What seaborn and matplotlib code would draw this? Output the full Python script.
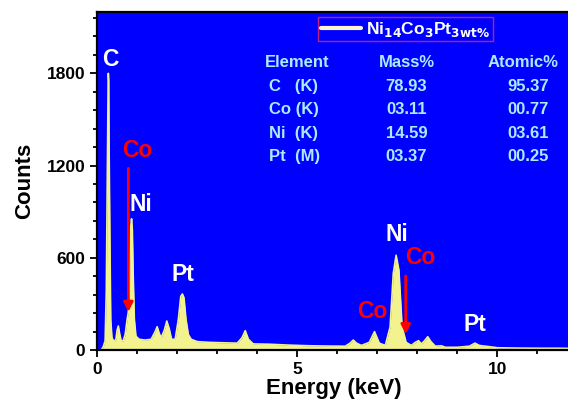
import numpy as np
import pandas as pd
import matplotlib
matplotlib.use("Agg")
import matplotlib.pyplot as plt
import seaborn as sns
from matplotlib.lines import Line2D

# EDS spectrum (energy in keV, counts)
energy = [0.00, 0.10, 0.15, 0.20, 0.23, 0.25, 0.27, 0.28, 0.29, 0.30, 0.32, 0.34, 0.37,
          0.42, 0.47, 0.50, 0.53, 0.56, 0.60, 0.65, 0.70, 0.75, 0.78, 0.81, 0.84, 0.86,
          0.88, 0.90, 0.93, 0.97, 1.05, 1.20, 1.35, 1.45, 1.50, 1.55, 1.60, 1.68, 1.74,
          1.80, 1.86, 1.95, 2.03, 2.09, 2.13, 2.17, 2.22, 2.28, 2.35, 2.50, 2.80, 3.20,
          3.50, 3.62, 3.70, 3.78, 3.90, 4.30, 4.80, 5.30, 5.80, 6.20, 6.32, 6.40, 6.48,
          6.60, 6.80, 6.93, 7.05, 7.20, 7.32, 7.40, 7.47, 7.54, 7.62, 7.72, 7.85, 7.95,
          8.03, 8.10, 8.18, 8.26, 8.34, 8.45, 8.60, 8.70, 9.00, 9.30, 9.44, 9.55, 9.80,
          10.00, 10.50, 11.00, 11.50, 12.00]
counts = [0, 0, 20, 60, 400, 1000, 1600, 1800, 1750, 1300, 700, 200, 80,
          55, 70, 130, 157, 110, 60, 60, 100, 200, 248, 450, 800, 854,
          780, 500, 200, 90, 70, 65, 70, 120, 152, 110, 80, 130, 189,
          140, 70, 70, 200, 350, 365, 340, 200, 100, 70, 55, 50, 47,
          45, 80, 126, 70, 40, 38, 32, 28, 26, 25, 45, 65, 45,
          30, 50, 120, 45, 30, 150, 500, 617, 520, 150, 50, 30, 50,
          61, 40, 60, 87, 55, 25, 28, 18, 18, 25, 45, 30, 22,
          15, 13, 12, 12, 10]

# composition table
elements = ["C   (K)", "Co (K)", "Ni  (K)", "Pt  (M)"]
mass_pct = ["78.93", "03.11", "14.59", "03.37"]
atomic_pct = ["95.37", "00.77", "03.61", "00.25"]

# peak labels: (text, energy, counts, colour)
peak_labels = [("C", 0.33, 1890, "white"), ("Co", 1.0, 1300, "red"),
               ("Ni", 1.1, 950, "white"), ("Pt", 2.14, 490, "white"),
               ("Ni", 7.5, 750, "white"), ("Co", 8.07, 600, "red"),
               ("Co", 6.88, 250, "red"), ("Pt", 9.45, 165, "white")]
# arrows: (energy, start counts, end counts)
arrows = [(0.78, 1200, 230), (7.71, 500, 85)]

df = pd.DataFrame({"Energy": energy, "Counts": counts})

sns.set_style("ticks")
plt.rcParams["font.family"] = ["Liberation Sans", "DejaVu Sans"]
plt.rcParams["font.weight"] = "bold"
plt.rcParams["mathtext.default"] = "bf"
for k in ["text.color", "axes.labelcolor", "xtick.color", "ytick.color", "axes.edgecolor"]:
    plt.rcParams[k] = "black"

fig = plt.figure(figsize=(5.68, 4.08), dpi=100)
ax = fig.add_axes([0.171, 0.142, 0.835, 0.829])
ax.set_facecolor("#0000ff")

yellow = "#f2f28e"
sns.lineplot(data=df, x="Energy", y="Counts", ax=ax, color=yellow, lw=1.2)
ax.fill_between(df["Energy"], df["Counts"], color=yellow, lw=0)

ax.set_xlim(0, 11.85)
ax.set_ylim(0, 2200)
ax.set_xticks([0, 5, 10])
ax.set_xticks(np.arange(0, 12, 1), minor=True)
ax.set_yticks([0, 600, 1200, 1800])
ax.set_yticks(np.arange(0, 2200, 120), minor=True)
ax.tick_params(axis="both", which="major", direction="out", length=5, width=1.3,
               labelsize=12.5)
ax.tick_params(axis="both", which="minor", direction="out", length=3, width=1.3)
for lbl in ax.get_xticklabels() + ax.get_yticklabels():
    lbl.set_fontweight("bold")
for s in ax.spines.values():
    s.set_linewidth(1.6)
ax.spines["right"].set_visible(False)

ax.set_xlabel("Energy (keV)", fontsize=16, fontweight="bold", labelpad=1)
ax.set_ylabel("Counts", fontsize=16, fontweight="bold", labelpad=8)

for txt, xv, yv, col in peak_labels:
    ax.text(xv, yv, txt, color=col, fontsize=16.5, fontweight="bold",
            ha="center", va="center")
for xv, y0, y1 in arrows:
    ax.annotate("", xy=(xv, y1), xytext=(xv, y0),
                arrowprops=dict(arrowstyle="-|>", color="red", lw=2,
                                mutation_scale=14))

# table of composition
tcol = "#a8ecff"
fs = 12
ax.text(5.0, 1870, "Element", color=tcol, fontsize=fs, fontweight="bold", ha="center", va="center")
ax.text(7.73, 1870, "Mass%", color=tcol, fontsize=fs, fontweight="bold", ha="center", va="center")
ax.text(10.65, 1870, "Atomic%", color=tcol, fontsize=fs, fontweight="bold", ha="center", va="center")
for i, el in enumerate(elements):
    yv = 1715 - i * 153
    ax.text(4.3, yv, el, color=tcol, fontsize=fs, fontweight="bold", ha="left", va="center")
    ax.text(7.73, yv, mass_pct[i], color=tcol, fontsize=fs, fontweight="bold", ha="center", va="center")
    ax.text(10.77, yv, atomic_pct[i], color=tcol, fontsize=fs, fontweight="bold", ha="center", va="center")

handle = Line2D([], [], color="#fff4d0", lw=3)
leg = ax.legend([handle], [r"Ni$_{14}$Co$_{3}$Pt$_{3wt\%}$"],
                loc="upper left", bbox_to_anchor=(0.455, 1.0), frameon=True,
                fancybox=False, facecolor="#0000ff", edgecolor="#c02080",
                framealpha=1, fontsize=12.5, handlelength=2.3, borderpad=0.15,
                handletextpad=0.3, borderaxespad=0.3)
for t in leg.get_texts():
    t.set_color("white")
    t.set_fontweight("bold")

fig.savefig("out.png", dpi=100)
